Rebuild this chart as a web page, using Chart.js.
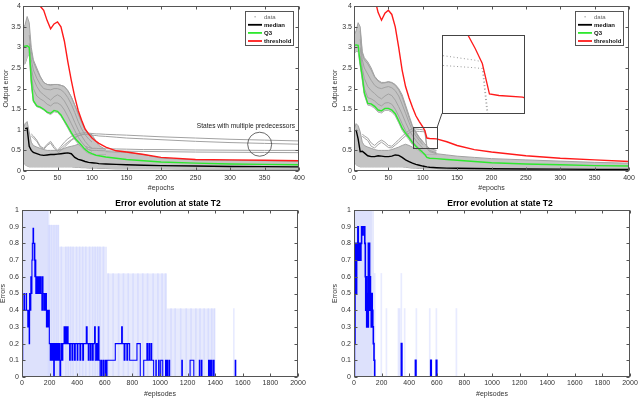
<!DOCTYPE html>
<html>
<head>
<meta charset="utf-8">
<script src="https://cdn.jsdelivr.net/npm/chart.js@4.4.1/dist/chart.umd.min.js"></script>
<style>
  body { margin: 0; background: #fff; }
  #wrap { position: relative; width: 640px; height: 398px; overflow: hidden; background: #fff; }
  canvas { position: absolute; }
</style>
</head>
<body>
<div id="wrap">
  <canvas id="cTL" width="320" height="198" style="left:0;top:0"></canvas>
  <canvas id="cTR" width="320" height="198" style="left:320px;top:0"></canvas>
  <canvas id="cBL" width="320" height="200" style="left:0;top:198px"></canvas>
  <canvas id="cBR" width="320" height="200" style="left:320px;top:198px"></canvas>
  <canvas id="cInset" width="10" height="10" style="left:0;top:0"></canvas>
</div>
<script>
const _ = null;

// ---- top plots: output error vs epochs ----
const epochs = [0,3,6,9,12, 15,20,25,30,35, 40,45,50,55,60, 65,70,75,80,85, 90,95,100,103,106, 110,120,135,150,175, 200,250,300,350,400];

// left network
const thresholdA = [_,_,_,_,_, _,4.05,4.0,3.9,3.65, 3.45,3.57,3.62,3.5,3.15, 2.65,2.2,1.8,1.47,1.23, 1.02,0.9,0.8,0.76,0.72, 0.67,0.58,0.49,0.46,0.4, 0.33,0.28,0.27,0.26,0.25];
const q3A = [3.02,3.03,3.04,3.0,2.2, 1.71,1.58,1.55,1.5,1.43, 1.4,1.47,1.45,1.36,1.22, 1.08,0.93,0.8,0.71,0.62, 0.52,0.46,0.42,0.4,0.38, 0.37,0.34,0.31,0.28,0.25, 0.22,0.19,0.17,0.16,0.15];
const medianA = [_,1.03,1.04,0.6,0.5, 0.45,0.42,0.39,0.38,0.39, 0.4,0.4,0.41,0.42,0.43, 0.44,0.42,0.33,0.28,0.26, 0.23,0.21,0.2,0.195,0.19, 0.18,0.17,0.16,0.15,0.14, 0.13,0.12,0.11,0.105,0.1];
const upperTopA = [3.45,3.55,3.75,3.6,3.0, 2.7,2.5,2.3,2.15,2.1, 2.1,2.1,2.1,2.08,2.05, 1.95,1.8,1.6,1.4,1.2, 1.0,0.92,0.88,0.8,0.72, 0.62,0.52,_,_,_, _,_,_,_,_];
const upperLowA = [2.6,2.6,2.75,2.85,2.1, 1.68,1.56,1.53,1.48,1.41, 1.37,1.44,1.42,1.33,1.19, 1.04,0.89,0.76,0.66,0.57, 0.48,0.43,0.4,0.4,0.4, 0.4,0.4,_,_,_, _,_,_,_,_];
const lowerTopA = [1.0,1.15,1.2,0.95,0.7, 0.62,0.58,0.55,0.52,0.5, 0.5,0.5,0.5,0.52,0.55, 0.58,0.6,0.62,0.65,0.6, 0.55,0.52,0.5,0.49,0.49, 0.48,0.47,0.46,0.45,0.4, 0.31,0.27,0.26,0.25,0.24];
const lowerLowA = [0.25,0.15,0.12,0.1,0.1, 0.1,0.1,0.1,0.1,0.1, 0.1,0.1,0.1,0.1,0.1, 0.1,0.1,0.09,0.09,0.08, 0.08,0.07,0.07,0.07,0.07, 0.06,0.06,0.05,0.05,0.05, 0.05,0.04,0.04,0.04,0.04];
const runsA = [
  [_,_,_,3.3,2.9, 2.65,2.45,2.28,2.15,2.1, 2.08,2.1,2.1,2.08,2.05, 1.95,1.8,1.6,1.38,1.18, 1.0,0.9,0.85,_,_, _,_,_,_,_, _,_,_,_,_],
  [_,_,_,3.1,2.7, 2.45,2.25,2.1,2.0,1.98, 1.97,2.0,2.0,1.97,1.9, 1.78,1.62,1.42,1.2,1.02, 0.88,0.78,0.7,_,_, _,_,_,_,_, _,_,_,_,_],
  [_,_,_,2.95,2.5, 2.25,2.05,1.92,1.85,1.78, 1.72,1.8,1.85,1.8,1.7, 1.55,1.38,1.18,1.0,0.85, 0.72,0.62,0.55,_,_, _,_,_,_,_, _,_,_,_,_],
  [_,_,_,2.9,2.35, 2.0,1.82,1.75,1.7,1.62, 1.58,1.65,1.65,1.6,1.48, 1.32,1.15,0.98,0.82,0.7, 0.6,0.52,0.48,_,_, _,_,_,_,_, _,_,_,_,_],
  [_,_,_,_,0.9, 0.85,0.75,0.6,0.55,0.65, 0.72,0.6,0.5,0.6,0.7, 0.78,0.84,0.88,0.9,0.92, 0.93,0.92,0.91,0.905,0.9, 0.9,0.89,0.88,0.87,0.85, 0.83,0.8,0.77,0.75,0.73],
  [_,_,_,_,0.85, 0.8,0.72,0.58,0.52,0.62, 0.68,0.55,0.47,0.55,0.63, 0.7,0.76,0.82,0.86,0.88, 0.89,0.88,0.87,0.865,0.86, 0.85,0.84,0.82,0.8,0.78, 0.76,0.72,0.69,0.67,0.65],
  [_,_,_,_,_, _,_,_,_,_, _,_,0.42,0.5,0.58, 0.66,0.74,0.8,0.85,0.88, 0.9,_,_,_,_, _,_,_,_,_, _,_,_,_,_],
  [_,_,_,_,_, _,_,_,_,_, _,_,_,_,_, _,_,_,_,_, 0.6,0.57,0.55,0.55,0.55, 0.545,0.54,0.535,0.53,0.52, 0.52,0.51,0.505,0.5,0.5],
  [_,_,_,_,_, _,_,_,_,_, _,_,_,_,_, _,_,_,_,_, 0.55,0.52,0.5,0.5,0.5, 0.495,0.49,0.485,0.48,0.475, 0.47,0.46,0.455,0.45,0.445]
];

// right network
const thresholdB = [_,_,_,_,_, _,_,_,4.2,3.85, 3.66,3.83,3.9,3.8,3.5, 3.0,2.45,2.05,1.78,1.55, 1.34,1.2,1.07,0.98,0.8, 0.79,0.78,0.71,0.62,0.52, 0.46,0.37,0.31,0.27,0.23];
const q3B = [3.05,3.06,3.05,2.62,2.3, 1.9,1.64,1.63,1.57,1.48, 1.46,1.52,1.52,1.48,1.39, 1.22,1.04,0.92,0.81,0.69, 0.6,0.52,0.45,0.4,0.33, 0.31,0.3,0.28,0.26,0.23, 0.2,0.17,0.15,0.13,0.12];
const medianB = [_,1.0,0.78,0.47,0.48, 0.44,0.37,0.35,0.35,0.37, 0.36,0.35,0.35,0.36,0.39, 0.38,0.33,0.27,0.23,0.19, 0.16,0.14,0.12,0.11,0.1, 0.09,0.08,0.07,0.065,0.06, 0.055,0.05,0.045,0.04,0.04];
const upperTopB = [3.3,3.4,3.6,3.5,2.9, 2.75,2.65,2.5,2.3,2.2, 2.15,2.15,2.17,2.15,2.1, 2.0,1.85,1.6,1.35,1.1, 0.95,0.82,0.72,0.66,0.6, 0.55,0.5,_,_,_, _,_,_,_,_];
const upperLowB = [2.85,2.9,2.9,2.55,2.2, 1.85,1.6,1.58,1.52,1.43, 1.41,1.47,1.47,1.43,1.34, 1.17,0.99,0.87,0.76,0.64, 0.55,0.48,0.42,0.4,0.4, 0.4,0.4,_,_,_, _,_,_,_,_];
const lowerTopB = [1.0,1.15,1.1,0.95,0.7, 0.62,0.58,0.55,0.52,0.5, 0.5,0.5,0.5,0.52,0.55, 0.58,0.62,0.65,0.62,0.58, 0.55,0.52,0.5,0.48,0.46, 0.44,0.42,0.39,0.36,0.33, 0.3,0.27,0.24,0.21,0.19];
const lowerLowB = [0.25,0.15,0.12,0.1,0.1, 0.1,0.1,0.1,0.1,0.1, 0.1,0.1,0.1,0.1,0.1, 0.1,0.1,0.09,0.08,0.07, 0.07,0.06,0.06,0.05,0.05, 0.05,0.05,0.04,0.04,0.035, 0.03,0.03,0.03,0.025,0.02];
const runsB = [
  [_,_,_,3.4,2.85, 2.7,2.6,2.45,2.28,2.18, 2.13,2.14,2.16,2.14,2.08, 1.97,1.8,1.55,1.3,1.07, 0.92,0.8,0.7,_,_, _,_,_,_,_, _,_,_,_,_],
  [_,_,_,3.2,2.7, 2.5,2.35,2.2,2.08,2.02, 2.0,2.03,2.05,2.02,1.95, 1.82,1.62,1.4,1.18,0.98, 0.85,0.74,0.64,_,_, _,_,_,_,_, _,_,_,_,_],
  [_,_,_,3.0,2.5, 2.25,2.05,1.95,1.88,1.8, 1.75,1.82,1.87,1.83,1.72, 1.56,1.38,1.18,1.0,0.86, 0.74,0.64,0.56,_,_, _,_,_,_,_, _,_,_,_,_],
  [_,_,_,2.8,2.35, 2.0,1.78,1.75,1.7,1.62, 1.58,1.65,1.66,1.62,1.5, 1.33,1.15,0.98,0.84,0.72, 0.62,0.54,0.48,_,_, _,_,_,_,_, _,_,_,_,_],
  [_,_,_,_,0.9, 0.85,0.8,0.68,0.62,0.7, 0.75,0.7,0.62,0.6,0.68, 0.76,0.84,0.92,0.98,1.03, 1.02,1.01,1.0,0.99,0.6, 0.5,0.44,_,_,_, _,_,_,_,_],
  [_,_,_,_,0.85, 0.8,0.74,0.6,0.56,0.64, 0.7,0.64,0.57,0.56,0.63, 0.7,0.78,0.85,0.92,0.97, 0.965,0.96,0.955,0.95,0.55, 0.47,0.42,_,_,_, _,_,_,_,_]
];

const topXTicks = [0,50,100,150,200,250,300,350,400];
const topXLabels = ['0','50','100','150','200','250','300','350','400'];
const topYTicks = [0,0.5,1,1.5,2,2.5,3,3.5,4];
const topYLabels = ['0','0.5','1','1.5','2','2.5','3','3.5','4'];
const legendLabels = ['data','median','Q3','threshold'];

// ---- bottom plots: error evolution at state T2, [episode, error] ----
const errorLineL = [[0,0],[3,0.1],[5,0.4],[14,0.5],[18,0.4],[30,0.5],[33,0.4],[42,0.3],[45,0.4],[52,0.2],
  [55,0.5],[60,0.4],[64,0.6],[68,0.5],[72,0.7],[75,0.8],[80,0.89],[84,0.8],[88,0.7],[90,0.8],
  [93,0.6],[96,0.7],[100,0.5],[104,0.6],[108,0.5],[112,0.6],[115,0.5],[118,0.6],[122,0.5],[126,0.6],
  [130,0.5],[135,0.6],[139,0.5],[144,0.4],[148,0.6],[152,0.5],[157,0.4],[162,0.5],[167,0.4],[172,0.5],
  [177,0.3],[182,0.4],[188,0.3],[192,0.4],[198,0.2],[205,0.1],[210,0.2],[214,0.1],[218,0.2],[222,0.1],
  [226,0.2],[230,0],[234,0.2],[240,0.1],[244,0.2],[250,0.1],[255,0.2],[262,0.1],[268,0.2],[275,0],
  [280,0.1],[285,0.2],[290,0.1],[296,0.2],[305,0.3],[310,0.2],[316,0.3],[322,0.2],[328,0.3],[334,0.2],
  [345,0.1],[350,0.2],[362,0.1],[368,0.2],[380,0.1],[386,0.2],[400,0.1],[405,0.2],[420,0.1],[426,0.2],
  [440,0.1],[446,0.2],[466,0.3],[472,0.2],[480,0.1],[485,0.2],[495,0.1],[500,0.2],[510,0.1],[516,0.2],
  [526,0.3],[531,0.1],[540,0.2],[548,0.1],[553,0.3],[558,0.1],[566,0],[575,0.1],[580,0],[590,0.1],
  [594,0],[604,0.1],[610,0],[616,0.1],[676,0.2],[722,0.3],[727,0.2],[740,0.1],[746,0.2],[760,0.1],
  [766,0.2],[780,0.1],[833,0.2],[857,0],[882,0.1],[905,0.2],[910,0.1],[920,0.2],[925,0.1],[935,0.2],
  [940,0.1],[954,0],[970,0.1],[973,0],[990,0.1],[994,0],[1005,0.1],[1020,0],[1040,0.1],[1045,0],
  [1050,0.1],[1055,0],[1065,0.1],[1070,0],[1158,0.1],[1162,0],[1218,0.1],[1245,0],[1285,0.1],[1289,0],
  [1300,0.1],[1304,0],[1352,0.1],[1356,0],[1362,0.1],[1366,0],[1372,0.1],[1378,0],[1388,0.1],[1392,0],
  [1545,0.1],[1549,0],[2000,0]];
const spreadL = [[0,1],[190,0.91],[270,0.78],[616,0.62],[1050,0.41],[1400,0],[2000,0]];
const coreL = [[0,1],[188,0],[2000,0]];
const spikesL = [[193,1],[200,0.91],[215,0.91],[232,0.91],[248,0.91],[262,0.91],
  [285,0.78],[318,0.78],[335,0.78],[352,0.78],[370,0.78],[395,0.78],[418,0.78],[440,0.78],[462,0.78],
  [490,0.78],[512,0.78],[530,0.78],[548,0.78],[565,0.78],[590,0.78],
  [625,0.62],[660,0.62],[700,0.62],[735,0.62],[770,0.62],[805,0.62],[840,0.62],[875,0.62],
  [910,0.62],[950,0.62],[985,0.62],[1015,0.62],[1040,0.62],
  [1080,0.41],[1110,0.41],[1150,0.41],[1190,0.41],[1225,0.41],[1260,0.41],[1290,0.41],[1320,0.41],
  [1350,0.41],[1375,0.41],[1395,0.41],[1535,0.41]];

const errorLineR = [[0,0],[3,0.42],[5,0.2],[7,0.8],[10,0.5],[13,0.8],[16,0.5],[19,0.7],[22,0.8],[25,0.7],
  [28,0.9],[31,0.7],[34,0.8],[38,0.7],[42,0.8],[46,0.7],[50,0.8],[55,0.9],[62,0.85],[66,0.9],
  [78,0.8],[82,0.6],[85,0.4],[88,0.6],[92,0.3],[96,0.5],[100,0.3],[104,0.8],[107,0.5],[110,0.8],
  [113,0.4],[116,0.6],[119,0.4],[122,0.5],[125,0.3],[128,0.5],[132,0.4],[136,0.3],[140,0.2],[145,0.1],
  [150,0],[343,0.2],[347,0],[445,0.1],[449,0],[556,0.1],[560,0],[596,0.1],[600,0],[2000,0]];
const spreadR = [[0,1],[145,0],[2000,0]];
const coreR = [[0,1],[130,0],[2000,0]];
const spikesR = [[150,0.62],[198,0.62],[235,0.41],[322,0.41],[330,0.41],[343,0.62],[367,0.41],
  [452,0.41],[549,0.41],[597,0.41],[742,0.41]];

const botXTicks = [0,200,400,600,800,1000,1200,1400,1600,1800,2000];
const botXLabels = ['0','200','400','600','800','1000','1200','1400','1600','1800','2000'];
const botYTicks = [0,0.1,0.2,0.3,0.4,0.5,0.6,0.7,0.8,0.9,1];
const botYLabels = ['0','0.1','0.2','0.3','0.4','0.5','0.6','0.7','0.8','0.9','1'];
const botTitle = 'Error evolution at state T2';

// ---- styling ----
const RED = '#ff1a1a', GREEN = '#2ee82e', BLACK = '#000';
const GRAY_FILL = 'rgb(196,196,196)', GRAY_LINE = 'rgb(162,162,162)';
const BLUE = '#0000ff';
const FONT = '"Liberation Sans", Arial, Helvetica, sans-serif';

// annotation placement (data coordinates)
const noteCircle = {x: 343, y: 0.65, r: 12};
const noteText = {x: 323, y: 1.08};
const zoomRect = {x: [86, 121], y: [0.55, 1.06]};
const insetBox = {x: [128, 247], y: [1.4, 3.3]};
const insetView = {x: [86, 121], y: [0.68, 1.15]};

Chart.defaults.font.family = FONT;
Chart.defaults.font.size = 7;
Chart.defaults.color = '#333';
Chart.defaults.animation = false;
Chart.defaults.events = [];
Chart.defaults.plugins.legend.display = false;
Chart.defaults.plugins.tooltip.enabled = false;

const pts = (xs, ys) => xs.map((x, i) => ({x, y: ys[i]}));
const pairs = arr => arr.map(([x, y]) => ({x, y}));

function xAxis(ticks, labels, title, h, tickPad, titlePad, lh) {
  return {
    type: 'linear', min: ticks[0], max: ticks[ticks.length - 1], offset: false,
    grid: {display: false, drawTicks: false}, border: {display: false},
    afterBuildTicks: s => { s.ticks = ticks.map(v => ({value: v})); },
    ticks: {padding: tickPad, autoSkip: false, maxRotation: 0, color: '#333', callback: (v, i) => labels[i]},
    title: {display: true, text: title, color: '#333', font: {size: 7, lineHeight: lh}, padding: titlePad},
    afterFit: s => { s.height = h; }
  };
}
function yAxis(ticks, labels, title, w, tickPad, titlePad, lh) {
  return {
    type: 'linear', min: ticks[0], max: ticks[ticks.length - 1],
    grid: {display: false, drawTicks: false}, border: {display: false},
    afterBuildTicks: s => { s.ticks = ticks.map(v => ({value: v})); },
    ticks: {padding: tickPad, autoSkip: false, color: '#333', callback: (v, i) => labels[i]},
    title: {display: true, text: title, color: '#333', font: {size: 7, lineHeight: lh}, padding: titlePad},
    afterFit: s => { s.width = w; }
  };
}

// MATLAB-like box with inward tick marks on all sides
const boxAxes = {
  id: 'boxAxes',
  afterDatasetsDraw(chart) {
    const {ctx, chartArea: a, scales: {x, y}} = chart;
    const L = Math.round(a.left) + 0.5, R = Math.round(a.right) - 0.5;
    const T = Math.round(a.top) + 0.5, B = Math.round(a.bottom) - 0.5;
    ctx.save();
    ctx.strokeStyle = '#555';
    ctx.lineWidth = 1;
    ctx.strokeRect(L, T, R - L, B - T);
    ctx.beginPath();
    x.ticks.forEach(t => {
      const px = Math.round(x.getPixelForValue(t.value)) + 0.5;
      ctx.moveTo(px, B); ctx.lineTo(px, B - 3);
      ctx.moveTo(px, T); ctx.lineTo(px, T + 3);
    });
    y.ticks.forEach(t => {
      const py = Math.round(y.getPixelForValue(t.value)) + 0.5;
      ctx.moveTo(L, py); ctx.lineTo(L + 3, py);
      ctx.moveTo(R, py); ctx.lineTo(R - 3, py);
    });
    ctx.stroke();
    ctx.restore();
  }
};

const boxLegend = {
  id: 'boxLegend',
  afterDraw(chart) {
    const {ctx, chartArea: a} = chart;
    const w = 48, h = 34;
    const x0 = Math.round(a.right) - 6 - w, y0 = Math.round(a.top) + 5;
    const colors = [GRAY_LINE, BLACK, GREEN, RED];
    ctx.save();
    ctx.fillStyle = '#fff';
    ctx.fillRect(x0, y0, w, h);
    ctx.strokeStyle = '#555';
    ctx.lineWidth = 1;
    ctx.strokeRect(x0 + 0.5, y0 + 0.5, w, h);
    ctx.textBaseline = 'middle';
    legendLabels.forEach((lab, i) => {
      const yy = y0 + 5.7 + i * 8.1;
      if (i === 0) {
        ctx.fillStyle = '#999';
        ctx.fillRect(x0 + 9.5, yy - 0.5, 1.2, 1.2);
        ctx.fillStyle = '#666';
        ctx.font = '6px ' + FONT;
      } else {
        ctx.strokeStyle = colors[i];
        ctx.lineWidth = 1.8;
        ctx.beginPath();
        ctx.moveTo(x0 + 3, yy); ctx.lineTo(x0 + 17, yy);
        ctx.stroke();
        ctx.fillStyle = '#111';
        ctx.font = 'bold 6px ' + FONT;
      }
      ctx.fillText(lab, x0 + 19, yy + 0.3);
    });
    ctx.restore();
  }
};

const predecessorNote = {
  id: 'predecessorNote',
  afterDraw(chart) {
    const {ctx, scales: {x, y}} = chart;
    ctx.save();
    ctx.strokeStyle = '#444';
    ctx.lineWidth = 0.8;
    ctx.beginPath();
    ctx.arc(x.getPixelForValue(noteCircle.x), y.getPixelForValue(noteCircle.y), noteCircle.r, 0, Math.PI * 2);
    ctx.stroke();
    ctx.fillStyle = '#222';
    ctx.font = '6.6px ' + FONT;
    ctx.textAlign = 'center';
    ctx.textBaseline = 'middle';
    ctx.fillText('States with multiple predecessors', x.getPixelForValue(noteText.x), y.getPixelForValue(noteText.y));
    ctx.restore();
  }
};

const zoomMarker = {
  id: 'zoomMarker',
  afterDraw(chart) {
    const {ctx, scales: {x, y}} = chart;
    const l = x.getPixelForValue(zoomRect.x[0]), r = x.getPixelForValue(zoomRect.x[1]);
    const t = y.getPixelForValue(zoomRect.y[1]), b = y.getPixelForValue(zoomRect.y[0]);
    ctx.save();
    ctx.strokeStyle = '#444';
    ctx.lineWidth = 1;
    ctx.strokeRect(Math.round(l) + 0.5, Math.round(t) + 0.5, Math.round(r - l), Math.round(b - t));
    ctx.beginPath();
    ctx.moveTo(r, t);
    ctx.lineTo(x.getPixelForValue(insetBox.x[0]), y.getPixelForValue(insetBox.y[0]));
    ctx.stroke();
    ctx.restore();
  }
};

// bold title above the axes, placed a little right of centre as in the original figure
const axesTitle = {
  id: 'axesTitle',
  afterDraw(chart) {
    const {ctx, chartArea: a} = chart;
    ctx.save();
    ctx.fillStyle = '#000';
    ctx.font = 'bold 8.5px ' + FONT;
    ctx.textAlign = 'center';
    ctx.textBaseline = 'middle';
    ctx.fillText(botTitle, (a.left + a.right) / 2 + 8, a.top - 6);
    ctx.restore();
  }
};

function grayDatasets(s) {
  const ds = [];
  s.bands.forEach(([hi, lo]) => {
    ds.push({data: pts(epochs, hi), borderColor: GRAY_LINE, borderWidth: 1,
      backgroundColor: GRAY_FILL, fill: '+1', order: 20});
    ds.push({data: pts(epochs, lo), borderColor: GRAY_LINE, borderWidth: 1, fill: false, order: 20});
  });
  s.runs.forEach(r => ds.push({data: pts(epochs, r), borderColor: GRAY_LINE, borderWidth: 1, fill: false, order: 15}));
  return ds;
}

function topChart(id, s, yWidth, yTitlePad, rightPad, extra) {
  const ds = [
    {data: pts(epochs, s.threshold), borderColor: RED, borderWidth: 1.4, fill: false, order: 0},
    {data: pts(epochs, s.q3), borderColor: GREEN, borderWidth: 1.4, fill: false, order: 1},
    {data: pts(epochs, s.median), borderColor: BLACK, borderWidth: 1.4, fill: false, order: 2},
    ...grayDatasets(s)
  ];
  return new Chart(document.getElementById(id), {
    type: 'line',
    data: {datasets: ds},
    options: {
      responsive: false,
      layout: {padding: {left: 0, top: 5, right: rightPad, bottom: 0}},
      elements: {point: {radius: 0}, line: {tension: 0}},
      scales: {
        x: xAxis(topXTicks, topXLabels, '#epochs', 27, 3, 5.8, 1.2),
        y: yAxis(topYTicks, topYLabels, 'Output error', yWidth, 2, yTitlePad, 1.2)
      }
    },
    plugins: [boxAxes, boxLegend, ...extra]
  });
}

function bottomChart(id, s, yWidth, yTitlePad, rightPad) {
  const ds = [
    {type: 'line', data: pairs(s.line), stepped: true, borderColor: BLUE, borderWidth: s.lw, fill: false, order: 0},
    {type: 'bar', data: pairs(s.spikes), backgroundColor: 'rgba(190,198,255,0.35)', barThickness: 1, order: 5},
    {type: 'line', data: pairs(s.spread), stepped: true, borderColor: 'rgba(0,0,0,0)', borderWidth: 1,
      backgroundColor: 'rgba(208,214,252,0.5)', fill: 'origin', order: 10},
    {type: 'line', data: pairs(s.core), stepped: true, borderColor: 'rgba(0,0,0,0)', borderWidth: 1,
      backgroundColor: 'rgba(196,204,250,0.35)', fill: 'origin', order: 11}
  ];
  return new Chart(document.getElementById(id), {
    type: 'line',
    data: {datasets: ds},
    options: {
      responsive: false,
      layout: {padding: {left: 0, top: 12, right: rightPad, bottom: 0}},
      elements: {point: {radius: 0}, line: {tension: 0}},
      scales: {
        x: xAxis(botXTicks, botXLabels, '#episodes', 21, 2, 0.5, 1),
        y: yAxis(botYTicks, botYLabels, 'Errors', yWidth, 3, yTitlePad, 1)
      }
    },
    plugins: [boxAxes, axesTitle]
  });
}

const netA = {threshold: thresholdA, q3: q3A, median: medianA,
  bands: [[upperTopA, upperLowA], [lowerTopA, lowerLowA]], runs: runsA};
const netB = {threshold: thresholdB, q3: q3B, median: medianB,
  bands: [[upperTopB, upperLowB], [lowerTopB, lowerLowB]], runs: runsB};

topChart('cTL', netA, 23, 1.8, 21, [predecessorNote]);
const chartTR = topChart('cTR', netB, 34, 10.8, 11, [zoomMarker]);
bottomChart('cBL', {line: errorLineL, spread: spreadL, core: coreL, spikes: spikesL, lw: 1.1}, 22, 0, 22);
bottomChart('cBR', {line: errorLineR, spread: spreadR, core: coreR, spikes: spikesR, lw: 1.6}, 34, 11.5, 10);

// magnified inset of the right plot: threshold plus the sampled state curves shown as dots
(function () {
  const sx = chartTR.scales.x, sy = chartTR.scales.y;
  const L = Math.round(sx.getPixelForValue(insetBox.x[0])), R = Math.round(sx.getPixelForValue(insetBox.x[1]));
  const T = Math.round(sy.getPixelForValue(insetBox.y[1])), B = Math.round(sy.getPixelForValue(insetBox.y[0]));
  const cv = document.getElementById('cInset');
  cv.width = R - L + 1;
  cv.height = B - T + 1;
  cv.style.left = (chartTR.canvas.offsetLeft + L) + 'px';
  cv.style.top = (chartTR.canvas.offsetTop + T) + 'px';
  const frame = {
    id: 'frame',
    beforeDraw(c) { c.ctx.save(); c.ctx.fillStyle = '#fff'; c.ctx.fillRect(0, 0, c.width, c.height); c.ctx.restore(); },
    afterDraw(c) { c.ctx.save(); c.ctx.strokeStyle = '#444'; c.ctx.lineWidth = 1; c.ctx.strokeRect(0.5, 0.5, c.width - 1, c.height - 1); c.ctx.restore(); }
  };
  const dotted = [runsB[3], runsB[4], runsB[5], upperLowB].map(r => ({
    data: pts(epochs, r), borderColor: '#999', borderWidth: 1, borderDash: [1, 2.5], fill: false, order: 10
  }));
  new Chart(cv, {
    type: 'line',
    data: {datasets: [
      {data: pts(epochs, thresholdB), borderColor: RED, borderWidth: 1.3, fill: false, order: 0},
      ...dotted
    ]},
    options: {
      responsive: false,
      layout: {padding: 0},
      elements: {point: {radius: 0}, line: {tension: 0}},
      scales: {
        x: {type: 'linear', display: false, min: insetView.x[0], max: insetView.x[1]},
        y: {type: 'linear', display: false, min: insetView.y[0], max: insetView.y[1]}
      }
    },
    plugins: [frame]
  });
})();
</script>
</body>
</html>
